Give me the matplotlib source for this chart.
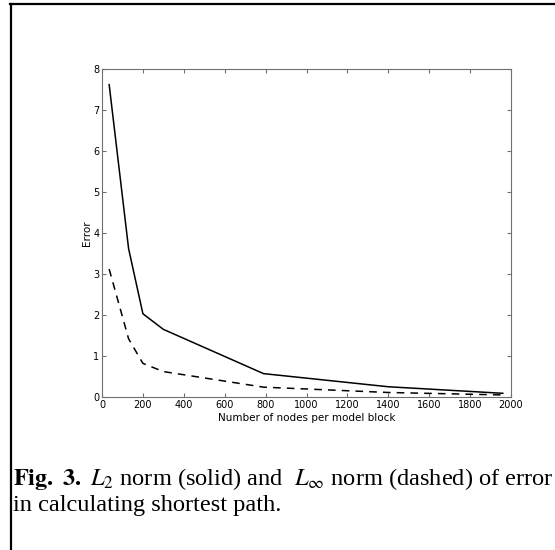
import numpy as np
import matplotlib.pyplot as plt
from matplotlib.lines import Line2D

# data
nodes = [35, 130, 200, 300, 790, 1400, 1960]
err_l2 = [7.62, 3.62, 2.03, 1.65, 0.57, 0.25, 0.09]
err_inf = [3.12, 1.42, 0.82, 0.62, 0.24, 0.11, 0.05]

xticks = np.arange(0, 2001, 200)
yticks = np.arange(0, 9, 1)

fig = plt.figure(figsize=(5.55, 5.5), dpi=100)
ax = fig.add_axes([102/555, 1-397/550, 409/555, 328/550])

ax.plot(nodes, err_l2, color='black', lw=1.1)
ax.plot(nodes, err_inf, color='black', lw=1.1, dashes=(5, 4))

ax.set_xlim(0, 2000)
ax.set_ylim(0, 8)
ax.set_xticks(xticks)
ax.set_yticks(yticks)
for s in ax.spines.values():
    s.set_color('#707070')
ax.tick_params(direction='in', length=3, width=0.8, color='#707070',
               top=True, right=True, labelsize=7, pad=2)
ax.set_xlabel('Number of nodes per model block', fontsize=7.5, labelpad=2)
ax.set_ylabel('Error', fontsize=7.5, labelpad=1)

# frame around the figure
fig.add_artist(Line2D([10/555, 1], [1-4/550, 1-4/550], color='black', lw=1.6))
fig.add_artist(Line2D([11/555, 11/555], [0, 1-4/550], color='black', lw=1.6))

# caption
serif = 'Liberation Serif'
fig.text(13/555, 1-485/550,
         r'$\bf{Fig.\ 3.}$ $L_2$ norm (solid) and  $L_\infty$ norm (dashed) of error',
         fontsize=17.6, family=serif, math_fontfamily='stix')
fig.text(13/555, 1-511/550, 'in calculating shortest path.', fontsize=17.6, family=serif)

fig.savefig('out.png', dpi=100)
